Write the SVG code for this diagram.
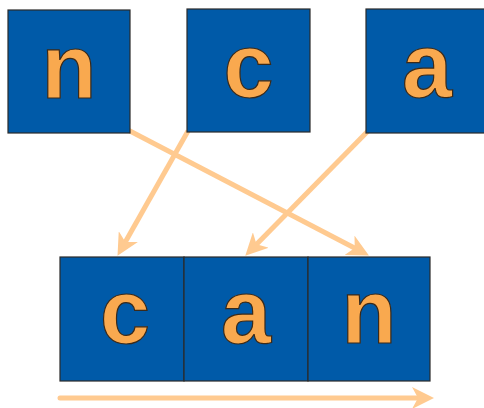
<svg xmlns="http://www.w3.org/2000/svg" width="484" height="408" viewBox="0 0 484 408">
<style>
.box{fill:#005AA8;stroke:#2a2a2a;stroke-width:1.2}
.lbl{font-family:"Liberation Sans",Arial,sans-serif;font-weight:bold;font-size:90px;fill:#F9A94F;stroke:#3a2a1a;stroke-width:1.2;text-anchor:middle}
.conn{stroke:#FFCA90;stroke-width:5;fill:none}
</style>
<defs>
<marker id="ah" markerUnits="userSpaceOnUse" markerWidth="22" markerHeight="22" viewBox="0 0 22 22" refX="9" refY="11" orient="auto">
<path d="M0,0 L22,11 L0,22 L6,11 Z" fill="#FFCA90"/>
</marker>
</defs>
<g id="connectors">
<line class="conn" x1="128" y1="130" x2="357.4" y2="249.5" marker-end="url(#ah)"/>
<line class="conn" x1="188" y1="131" x2="123.9" y2="244.5" marker-end="url(#ah)"/>
<line class="conn" x1="368" y1="131" x2="254.4" y2="246.4" marker-end="url(#ah)"/>
<line class="conn" x1="60" y1="398" x2="421" y2="398" stroke-linecap="round" marker-end="url(#ah)"/>
</g>
<g id="src-n"><rect class="box" x="8" y="10" width="122" height="123"/><text class="lbl" x="69" y="98">n</text></g>
<g id="src-c"><rect class="box" x="187" y="9" width="123" height="123"/><text class="lbl" x="248.5" y="97">c</text></g>
<g id="src-a"><rect class="box" x="366" y="9" width="122" height="124"/><text class="lbl" x="427" y="97">a</text></g>
<g id="dst-c"><rect class="box" x="60" y="257" width="124" height="124"/><text class="lbl" x="125" y="343">c</text></g>
<g id="dst-a"><rect class="box" x="184" y="257" width="124" height="124"/><text class="lbl" x="246" y="343">a</text></g>
<g id="dst-n"><rect class="box" x="308" y="257" width="122" height="124"/><text class="lbl" x="369" y="343">n</text></g>
</svg>
